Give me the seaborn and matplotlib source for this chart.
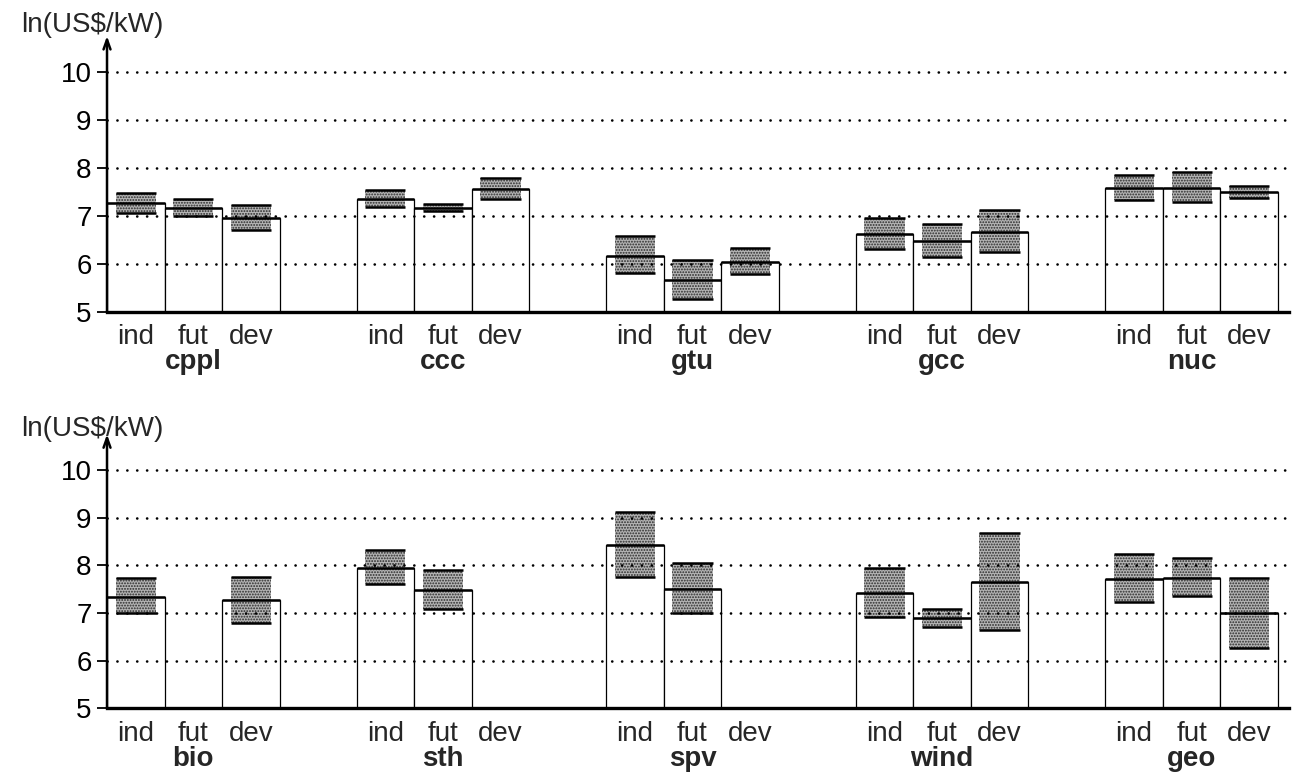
import numpy as np
import pandas as pd
import matplotlib
matplotlib.use("Agg")
import matplotlib.pyplot as plt
import seaborn as sns

# ---------------- data ----------------
regions = ["ind", "fut", "dev"]
top_techs = ["cppl", "ccc", "gtu", "gcc", "nuc"]
bottom_techs = ["bio", "sth", "spv", "wind", "geo"]

# central values (bar tops), upper and lower range (shaded bands)
top_mid = [[7.27, 7.17, 6.96], [7.35, 7.16, 7.56], [6.17, 5.66, 6.05],
           [6.62, 6.47, 6.67], [7.59, 7.59, 7.49]]
top_hi = [[7.48, 7.35, 7.23], [7.54, 7.25, 7.79], [6.58, 6.08, 6.34],
          [6.95, 6.83, 7.12], [7.85, 7.92, 7.62]]
top_lo = [[7.06, 7.00, 6.71], [7.18, 7.10, 7.35], [5.82, 5.26, 5.79],
          [6.31, 6.15, 6.25], [7.33, 7.30, 7.38]]

nan = np.nan
bot_mid = [[7.33, nan, 7.27], [7.94, 7.48, nan], [8.43, 7.50, nan],
           [7.41, 6.90, 7.64], [7.71, 7.73, 6.99]]
bot_hi = [[7.73, nan, 7.76], [8.32, 7.90, nan], [9.12, 8.05, nan],
          [7.95, 7.09, 8.68], [8.23, 8.15, 7.74]]
bot_lo = [[7.01, nan, 6.80], [7.60, 7.08, nan], [7.75, 6.99, nan],
          [6.91, 6.70, 6.64], [7.23, 7.36, 6.27]]

y_ticks = [5, 6, 7, 8, 9, 10]
y_label = "ln(US$/kW)"

# ---------------- style ----------------
sns.set_style("white")
plt.rcParams["font.family"] = ["Liberation Sans", "DejaVu Sans"]
plt.rcParams["hatch.linewidth"] = 0.9

GROUP_STEP = 4.34
Y_TOP = 10.75
X_MAX = 20.64
FS = 20


def draw_panel(ax, techs, mid, hi, lo):
    rows = []
    for g, tech in enumerate(techs):
        for r, reg in enumerate(regions):
            rows.append(dict(x=g * GROUP_STEP + r + 0.5, tech=tech, region=reg,
                             mid=mid[g][r], hi=hi[g][r], lo=lo[g][r]))
    df = pd.DataFrame(rows)
    d = df.dropna()

    sns.barplot(data=d, x="x", y="mid", native_scale=True, width=1.0,
                color="white", saturation=1, edgecolor="black", linewidth=0.9,
                errorbar=None, ax=ax, zorder=1)

    # shaded uncertainty bands
    ax.bar(d["x"], d["hi"] - d["lo"], bottom=d["lo"], width=0.70,
           color="#b4b4b4", hatch="......", edgecolor="#2a2a2a", linewidth=0,
           zorder=2)
    ax.hlines(d["hi"], d["x"] - 0.35, d["x"] + 0.35, color="black", lw=1.8, zorder=3)
    ax.hlines(d["lo"], d["x"] - 0.35, d["x"] + 0.35, color="black", lw=1.8, zorder=3)
    # thick bar tops
    ax.hlines(d["mid"], d["x"] - 0.5, d["x"] + 0.5, color="black", lw=1.8, zorder=4)

    ax.set_xlim(0, X_MAX)
    ax.set_ylim(5, Y_TOP)
    ax.set_yticks(y_ticks)
    ax.set_yticklabels([str(t) for t in y_ticks], fontsize=FS)
    ax.set_xticks(df["x"])
    ax.set_xticklabels(df["region"], fontsize=FS)
    ax.tick_params(axis="x", length=0, pad=9)
    ax.tick_params(axis="y", length=7, width=1.3, direction="out", pad=4,
                   left=True, colors="black")
    ax.set_xlabel("")
    ax.set_ylabel("")

    ax.grid(False)
    for t in y_ticks[1:]:
        ax.axhline(t, color="black", lw=1.9, linestyle=(0, (0.05, 3.7)),
                   dash_capstyle="round", zorder=5)

    for s in ["top", "right", "left"]:
        ax.spines[s].set_visible(False)
    ax.spines["bottom"].set_linewidth(2.4)
    ax.spines["bottom"].set_color("black")
    ax.spines["bottom"].set_bounds(0, 20.55)
    ax.spines["bottom"].set_zorder(6)

    # y axis with arrow
    ax.annotate("", xy=(0, Y_TOP), xytext=(0, 5),
                arrowprops=dict(arrowstyle="->,head_length=0.7,head_width=0.25",
                                lw=1.8, color="black", shrinkA=0, shrinkB=0),
                annotation_clip=False, zorder=7)

    for g, tech in enumerate(techs):
        ax.annotate(tech, xy=(g * GROUP_STEP + 1.5, 0),
                    xycoords=("data", "axes fraction"),
                    xytext=(0, -27), textcoords="offset points",
                    ha="center", va="top", fontsize=FS, fontweight="bold")


fig = plt.figure(figsize=(12.94, 7.77), dpi=100)
ax1 = fig.add_axes([0.0827, 0.5985, 0.9173, 0.3552])
ax2 = fig.add_axes([0.0827, 0.0884, 0.9173, 0.3527])

draw_panel(ax1, top_techs, top_mid, top_hi, top_lo)
draw_panel(ax2, bottom_techs, bot_mid, bot_hi, bot_lo)

fig.text(92 / 1294, 1 - 25 / 777, y_label, fontsize=FS, ha="center", va="center")
fig.text(92 / 1294, 1 - 429 / 777, y_label, fontsize=FS, ha="center", va="center")

fig.savefig("out.png", dpi=100)
